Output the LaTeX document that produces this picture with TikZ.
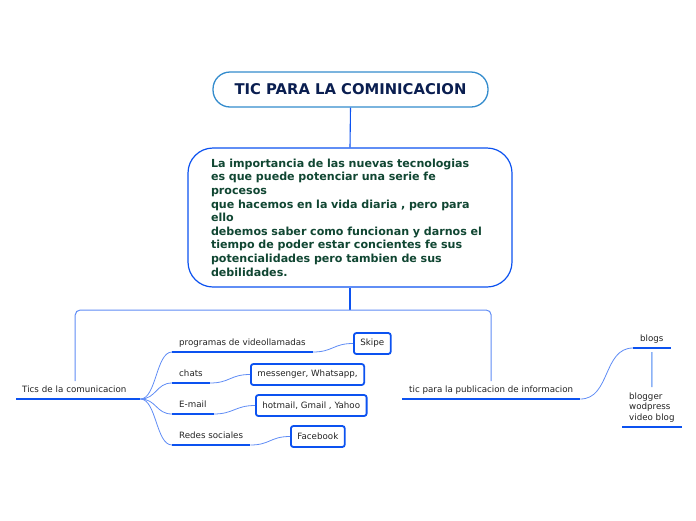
\documentclass[tikz,border=0pt]{standalone}
\usepackage{fontspec}
\setmainfont{DejaVu Sans}
\usetikzlibrary{calc}

\definecolor{linkblue}{RGB}{12,82,240}
\definecolor{softblue}{RGB}{95,140,245}
\definecolor{paleblue}{RGB}{140,178,246}
\definecolor{titleline}{RGB}{52,140,205}
\definecolor{titletext}{RGB}{10,30,80}
\definecolor{bodytext}{RGB}{16,70,50}
\definecolor{labeltext}{RGB}{35,35,35}

\tikzset{
	titlebox/.style={draw=titleline, line width=1.3pt, fill=white, rounded corners=17pt, minimum width=275pt, minimum height=35pt, font=\fontsize{14.8}{17}\selectfont\bfseries, text=titletext},
	infobox/.style={draw=linkblue, line width=1.2pt, fill=white, rounded corners=25pt, text width=278pt, inner xsep=23pt, minimum height=139pt, align=left, font=\fontsize{11.1}{13.6}\selectfont\bfseries, text=bodytext},
	topic/.style={anchor=south west, inner xsep=7pt, inner ysep=4.5pt, text height=6.5pt, text depth=2pt, font=\fontsize{8.7}{10.5}\selectfont, text=labeltext},
	leafbox/.style={anchor=west, draw=linkblue, line width=1.8pt, fill=white, rounded corners=2.5pt, minimum height=21pt, inner xsep=6.5pt, font=\fontsize{8.7}{10.5}\selectfont, text=labeltext},
	underline/.style={draw=linkblue, line width=2pt},
	branch/.style={draw=softblue, line width=0.8pt}
}

\begin{document}
\begin{tikzpicture}[x=1pt, y=-1pt]
			%%%%% START %%%%%
			\useasboundingbox (0,0) rectangle (696,520);
			
			\node[titlebox] (title) at (350.5,89.5) {TIC PARA LA COMINICACION};
			\node[infobox] (info) at (350,217.5) {La importancia de las nuevas tecnologias\\
				es que puede potenciar una serie fe\\
				procesos\\
				que hacemos en la vida diaria , pero para\\
				ello\\
				debemos saber como funcionan y darnos el\\
				tiempo de poder estar concientes fe sus\\
				potencialidades pero tambien de sus\\
				debilidades.};
			\draw[linkblue, line width=1.1pt] (title.south) -- (info.north);
			
			% main topics
			\node[topic, inner xsep=6pt, text width=112pt, align=left] (tics) at (16,399) {Tics de la comunicacion};
			\node[topic] (pub) at (402,399) {tic para la publicacion de informacion};
			
			\coordinate (fork) at (350,310);
			\coordinate (ticstop) at ($(tics.north)+(-3,0)$);
			\draw[linkblue, line width=1.1pt] (info.south) -- (fork);
			\draw[softblue, line width=1pt, rounded corners=5pt] (ticstop) |- (fork) -| (pub.north);
			
			% tics
			\node[topic] (prog) at (172,352) {programas de videollamadas};
			\node[topic] (chats) at (172,383) {chats};
			\node[topic] (mail) at (172,414) {E-mail};
			\node[topic] (redes) at (172,445) {Redes sociales};
			
			\node[leafbox] (skipe) at (353,343.5) {Skipe};
			\node[leafbox] (msg) at (250,374.5) {messenger, Whatsapp,};
			\node[leafbox] (hotmail) at (255,405.5) {hotmail, Gmail , Yahoo};
			\node[leafbox] (face) at (290,436.5) {Facebook};
			
			\foreach \n in {prog,chats,mail,redes}
				\draw[branch] (tics.south east) .. controls +(16,0) and +(-16,0) .. (\n.south west);
			\foreach \a/\b in {prog/skipe,chats/msg,mail/hotmail,redes/face}
				\draw[branch] (\a.south east) .. controls +(20,0) and +(-20,0) .. (\b.west);
			
			% publicacion
			\node[topic] (blogs) at (633,348) {blogs};
			\node[topic, text height=, text depth=, align=left] (blogger) at (622,427) {blogger\\wodpress\\video blog};
			
			\draw[branch] (pub.south east) .. controls +(30,0) and +(-30,0) .. (blogs.south west);
			\draw[paleblue, line width=1.3pt, shorten <=4pt, shorten >=1pt] (blogs.south) -- (blogger.north);
			
			\foreach \n in {tics,pub,prog,chats,mail,redes,blogs,blogger}
				\draw[underline] (\n.south west) -- (\n.south east);
			
			%%%%% END %%%%%
\end{tikzpicture}
\end{document}
